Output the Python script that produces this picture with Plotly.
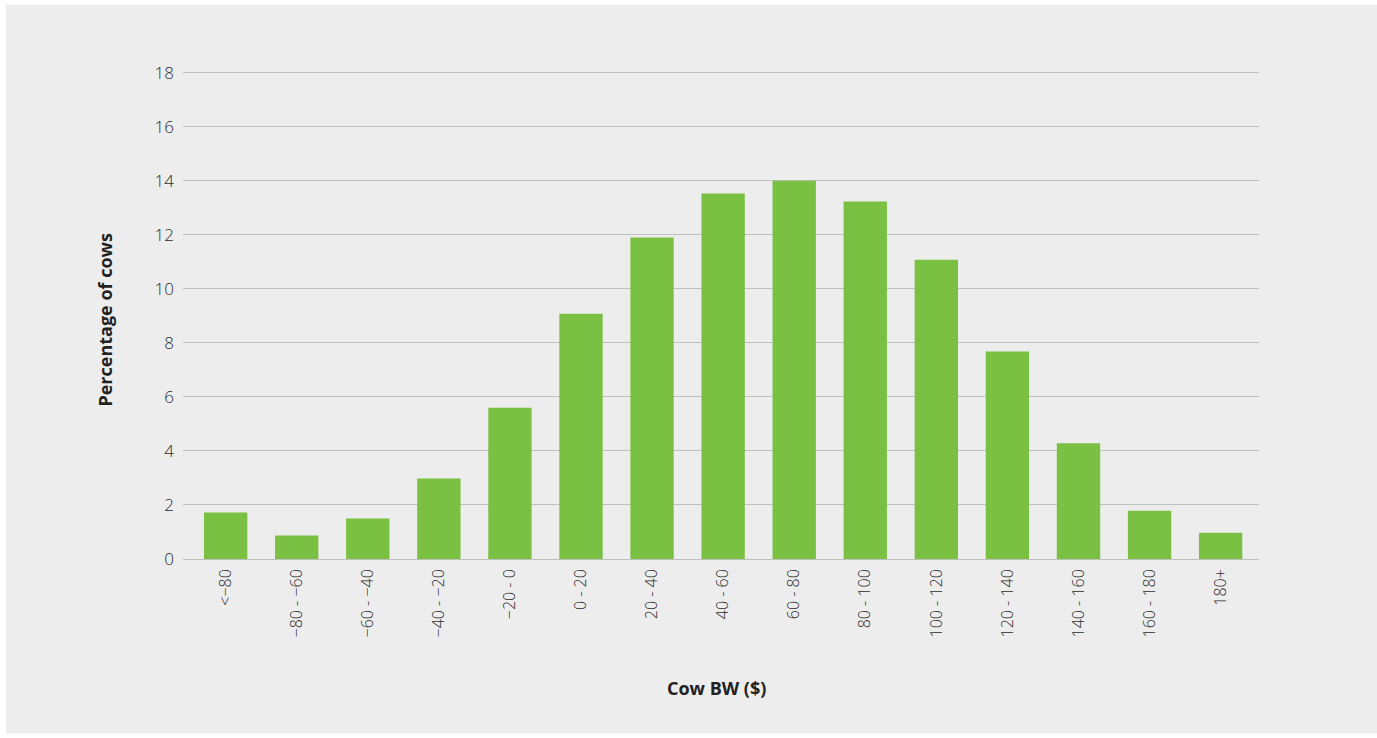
import plotly.graph_objects as go

categories = ["<−80", "−80 - −60", "−60 - −40", "−40 - −20", "−20 - 0", "0 - 20", "20 - 40",
              "40 - 60", "60 - 80", "80 - 100", "100 - 120", "120 - 140", "140 - 160",
              "160 - 180", "180+"]
values = [1.72, 0.87, 1.50, 2.98, 5.6, 9.08, 11.9, 13.53, 14.0, 13.23, 11.08, 7.68, 4.28, 1.79, 0.97]
y_ticks = [0, 2, 4, 6, 8, 10, 12, 14, 16, 18]

W, H = 1377, 738
ymax = 18.1
B = 178.5
ph = ymax * 27.03
T = H - B - ph
L, R = 183, 118
pw = W - L - R

fig = go.Figure(go.Bar(x=list(range(len(categories))), y=values, marker_color="#7AC143",
                       marker_line_width=0))

fig.update_layout(
    width=W, height=H,
    margin=dict(l=L, r=R, t=T, b=B, autoexpand=False),
    paper_bgcolor="white", plot_bgcolor="rgba(0,0,0,0)",
    bargap=0.39, showlegend=False,
    font=dict(family="Open Sans, sans-serif", color="#333333"),
    xaxis=dict(tickmode="array", tickvals=list(range(len(categories))), ticktext=categories,
               tickangle=-90, range=[-0.6, len(categories) - 0.46], showgrid=False,
               zeroline=False, showline=False, ticks="", ticklabelstandoff=6,
               tickfont=dict(size=16, color="#2a2a2a", family="Open Sans, sans-serif", weight=300)),
    yaxis=dict(range=[0, ymax], tickvals=y_ticks, showgrid=True, gridcolor="#BFBFBF", gridwidth=1.3,
               zeroline=True, zerolinecolor="#BFBFBF", zerolinewidth=1.3, showline=False, ticks="",
               ticklabelstandoff=8,
               tickfont=dict(size=17, color="#2a2a2a", family="Open Sans, sans-serif", weight=300)),
    shapes=[dict(type="rect", xref="paper", yref="paper", layer="below",
                 x0=(6 - L) / pw, x1=(W - L) / pw + 0.01,
                 y0=(H - B - 734) / ph, y1=(H - B - 5) / ph,
                 fillcolor="#EDEDED", line_width=0)],
    annotations=[
        dict(text="<b>Cow BW ($)</b>", xref="paper", yref="paper", x=(716 - L) / pw,
             y=(H - B - 689) / ph, xanchor="center", yanchor="middle", showarrow=False,
             font=dict(size=18, color="#222222", family="Open Sans, sans-serif")),
        dict(text="<b>Percentage of cows</b>", xref="paper", yref="paper", x=(105 - L) / pw,
             y=(H - B - 320) / ph, xanchor="center", yanchor="middle", textangle=-90,
             showarrow=False, font=dict(size=18, color="#222222", family="Open Sans, sans-serif")),
    ],
)

fig.write_html("out.html", config={"displayModeBar": False},
               post_script="document.body.style.margin='0';document.body.style.overflow='hidden';")
